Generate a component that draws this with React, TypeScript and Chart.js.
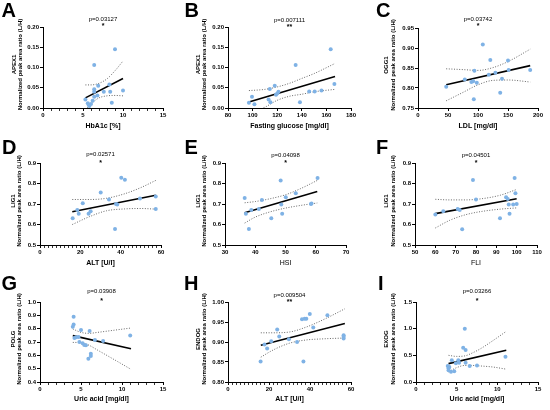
import { useEffect, useRef } from 'react';
import { Chart, registerables } from 'chart.js';
Chart.register(...registerables);

const FONT = "'Liberation Sans', Arial, Helvetica, sans-serif";
const YTITLE = 'Normalized peak area ratio (L/H)';

// ---------- Panel A: APEX1 vs HbA1c ----------
const hba1cA = [5.3, 5.6, 5.7, 5.8, 6.0, 6.2, 6.4, 6.4, 6.4, 6.4, 6.8, 6.9, 7.6, 8.3, 8.4, 8.6, 9.0, 10.0];
const apex1A = [0.021, 0.012, 0.008, 0.005, 0.010, 0.018, 0.028, 0.040, 0.046, 0.106, 0.031, 0.055, 0.040, 0.058, 0.040, 0.013, 0.145, 0.043];
const fitAX = [5.3, 10.0];
const fitAY = [0.025, 0.073];
const ciAX = [5.3, 6.0, 7.0, 8.0, 9.0, 10.0];
const ciAHi = [0.057, 0.057, 0.061, 0.072, 0.092, 0.116];
const ciALo = [-0.005, 0.010, 0.025, 0.030, 0.031, 0.030];

// ---------- Panel B: APEX1 vs fasting glucose ----------
const glucoseB = [97, 99.5, 101.5, 113, 114, 114.5, 118, 119, 120, 121, 135, 138.5, 146, 150.5, 156, 163.5, 166.5];
const apex1B = [0.013, 0.028, 0.009, 0.021, 0.047, 0.014, 0.055, 0.033, 0.036, 0.040, 0.106, 0.014, 0.041, 0.041, 0.043, 0.145, 0.059];
const fitBX = [97, 167];
const fitBY = [0.015, 0.078];
const ciBX = [97, 110, 120, 130, 140, 150, 167];
const ciBHi = [0.043, 0.046, 0.052, 0.061, 0.073, 0.085, 0.110];
const ciBLo = [-0.013, 0.002, 0.019, 0.029, 0.034, 0.040, 0.046];

// ---------- Panel C: OGG1 vs LDL ----------
const ldlC = [47, 78, 89, 92, 94, 93, 98, 108, 118, 120.5, 129, 137, 140, 150, 151, 187];
const ogg1C = [0.803, 0.821, 0.815, 0.817, 0.843, 0.772, 0.813, 0.909, 0.833, 0.870, 0.838, 0.788, 0.823, 0.869, 0.845, 0.845];
const fitCX = [47, 187];
const fitCY = [0.808, 0.856];
const ciCX = [47, 75, 100, 125, 150, 187];
const ciCHi = [0.848, 0.846, 0.844, 0.851, 0.866, 0.897];
const ciCLo = [0.768, 0.789, 0.808, 0.819, 0.820, 0.815];

// ---------- Panel D: LIG1 vs ALT ----------
const altD = [16.2, 18.5, 19.2, 21.2, 24.1, 25.1, 30.1, 34.2, 37.2, 37.7, 38.3, 40.3, 42.1, 49.6, 57.4, 57.4];
const lig1D = [0.631, 0.671, 0.652, 0.704, 0.652, 0.665, 0.756, 0.722, 0.578, 0.700, 0.698, 0.828, 0.818, 0.727, 0.737, 0.676];
const fitDX = [16, 57.4];
const fitDY = [0.662, 0.743];
const ciDX = [16, 25, 33, 42, 50, 57.4];
const ciDHi = [0.722, 0.722, 0.728, 0.750, 0.780, 0.815];
const ciDLo = [0.600, 0.640, 0.667, 0.676, 0.678, 0.675];

// ---------- Panel E: LIG1 vs HSI ----------
const hsiE = [36.5, 36.9, 37.9, 38.7, 41.2, 42.2, 45.3, 48.4, 48.6, 48.9, 50.1, 53.4, 58.4, 58.6, 60.6];
const lig1E = [0.729, 0.652, 0.578, 0.671, 0.676, 0.720, 0.631, 0.815, 0.698, 0.652, 0.733, 0.753, 0.700, 0.702, 0.827];
const fitEX = [36.5, 60.5];
const fitEY = [0.657, 0.761];
const ciEX = [36.5, 40, 45, 50, 55, 60.5];
const ciEHi = [0.706, 0.712, 0.726, 0.745, 0.775, 0.815];
const ciELo = [0.607, 0.636, 0.662, 0.680, 0.693, 0.705];

// ---------- Panel F: LIG1 vs FLI ----------
const fliF = [60, 63.9, 71, 72, 73.2, 78.5, 80, 91.8, 94.8, 95.6, 96.1, 96.5, 98.3, 99, 99.4, 100];
const lig1F = [0.649, 0.665, 0.676, 0.671, 0.577, 0.817, 0.722, 0.631, 0.733, 0.725, 0.698, 0.652, 0.698, 0.827, 0.753, 0.700];
const fitFX = [60, 100];
const fitFY = [0.653, 0.726];
const ciFX = [60, 67, 75, 83, 92, 100];
const ciFHi = [0.723, 0.720, 0.720, 0.726, 0.743, 0.771];
const ciFLo = [0.583, 0.620, 0.648, 0.664, 0.675, 0.681];

// ---------- Panel G: POLG vs uric acid ----------
const uricG = [4.0, 4.1, 4.1, 4.2, 4.4, 4.7, 4.8, 5.0, 5.2, 5.4, 5.6, 5.9, 6.05, 6.2, 6.2, 6.7, 7.7, 11.0];
const polgG = [0.815, 0.890, 0.832, 0.730, 0.735, 0.738, 0.700, 0.790, 0.690, 0.678, 0.676, 0.575, 0.783, 0.595, 0.612, 0.715, 0.708, 0.748];
const fitGX = [4.0, 11.1];
const fitGY = [0.748, 0.650];
const ciGX = [4.0, 5.0, 6.0, 7.0, 8.0, 9.5, 11.1];
const ciGHi = [0.798, 0.772, 0.765, 0.772, 0.780, 0.792, 0.805];
const ciGLo = [0.697, 0.695, 0.675, 0.640, 0.605, 0.552, 0.495];

// ---------- Panel H: ENDOG vs ALT ----------
const altH = [15.9, 17.8, 19.1, 21.1, 24.0, 25.0, 29.7, 33.7, 36.8, 36.1, 37.4, 38.2, 39.9, 41.6, 48.5, 56.4, 56.4, 56.4];
const endogH = [0.851, 0.894, 0.884, 0.902, 0.931, 0.914, 0.907, 0.900, 0.851, 0.957, 0.958, 0.958, 0.970, 0.936, 0.967, 0.917, 0.913, 0.909];
const fitHX = [16, 57];
const fitHY = [0.892, 0.946];
const ciHX = [16, 22, 30, 38, 47, 57];
const ciHHi = [0.923, 0.923, 0.925, 0.937, 0.957, 0.983];
const ciHLo = [0.862, 0.880, 0.897, 0.905, 0.908, 0.910];

// ---------- Panel I: EXOG vs uric acid ----------
const uricI = [3.9, 4.0, 4.0, 4.1, 4.3, 4.4, 4.7, 4.9, 5.2, 5.3, 5.8, 6.0, 6.1, 6.1, 6.6, 7.5, 11.0];
const exogI = [0.30, 0.26, 0.22, 0.28, 0.19, 0.41, 0.20, 0.35, 0.41, 0.36, 0.64, 1.00, 0.60, 0.36, 0.30, 0.31, 0.475];
const fitIX = [4.0, 11.1];
const fitIY = [0.345, 0.595];
const ciIX = [4.0, 5.0, 6.0, 7.0, 8.0, 9.5, 11.1];
const ciIHi = [0.50, 0.48, 0.49, 0.55, 0.63, 0.78, 0.95];
const ciILo = [0.19, 0.27, 0.31, 0.31, 0.30, 0.28, 0.24];

type Spec = {
  letter: string; gene: string; xTitle: string; xBold: boolean; p: string; star: string;
  xMin: number; xMax: number; xMajor: number; xMinor: number;
  yMin: number; yMax: number; yStep: number; yDec: number;
  px: number[]; py: number[]; fx: number[]; fy: number[]; cx: number[]; chi: number[]; clo: number[];
  // layout (panel-local pixels)
  L: number; T: number; cl: number; cr: number; ct: number; cb: number;
  letterX: number; yTitleX: number; pDy: number; starDy: number;
};

const PW = 183;
const PH = 137;

const panels: Spec[] = [
  { letter: 'A', gene: 'APEX1', xTitle: 'HbA1c [%]', xBold: true, p: 'p=0.03127', star: '*',
    xMin: 0, xMax: 15, xMajor: 5, xMinor: 1, yMin: 0, yMax: 0.2, yStep: 0.05, yDec: 2,
    px: hba1cA, py: apex1A, fx: fitAX, fy: fitAY, cx: ciAX, chi: ciAHi, clo: ciALo,
    L: 0, T: 0, cl: 43, cr: 163, ct: 27, cb: 108, letterX: 1.5, yTitleX: 14, pDy: -8, starDy: -2 },
  { letter: 'B', gene: 'APEX1', xTitle: 'Fasting glucose [mg/dl]', xBold: true, p: 'p=0.007111', star: '**',
    xMin: 80, xMax: 180, xMajor: 20, xMinor: 20, yMin: 0, yMax: 0.2, yStep: 0.05, yDec: 2,
    px: glucoseB, py: apex1B, fx: fitBX, fy: fitBY, cx: ciBX, chi: ciBHi, clo: ciBLo,
    L: 183, T: 0, cl: 45, cr: 168, ct: 27, cb: 108, letterX: 1.5, yTitleX: 15, pDy: -7, starDy: -1 },
  { letter: 'C', gene: 'OGG1', xTitle: 'LDL [mg/dl]', xBold: true, p: 'p=0.03742', star: '*',
    xMin: 0, xMax: 200, xMajor: 50, xMinor: 50, yMin: 0.75, yMax: 0.95, yStep: 0.05, yDec: 2,
    px: ldlC, py: ogg1C, fx: fitCX, fy: fitCY, cx: ciCX, chi: ciCHi, clo: ciCLo,
    L: 366, T: 0, cl: 52, cr: 172, ct: 28, cb: 108, letterX: 10, yTitleX: 20.7, pDy: -8.7, starDy: -3 },
  { letter: 'D', gene: 'LIG1', xTitle: 'ALT [U/l]', xBold: true, p: 'p=0.02571', star: '*',
    xMin: 0, xMax: 60, xMajor: 20, xMinor: 2, yMin: 0.5, yMax: 0.9, yStep: 0.1, yDec: 1,
    px: altD, py: lig1D, fx: fitDX, fy: fitDY, cx: ciDX, chi: ciDHi, clo: ciDLo,
    L: 0, T: 137, cl: 40, cr: 161, ct: 26, cb: 108, letterX: 2, yTitleX: 13.3, pDy: -8.7, starDy: -1 },
  { letter: 'E', gene: 'LIG1', xTitle: 'HSI', xBold: false, p: 'p=0.04098', star: '*',
    xMin: 30, xMax: 70, xMajor: 10, xMinor: 10, yMin: 0.5, yMax: 0.9, yStep: 0.1, yDec: 1,
    px: hsiE, py: lig1E, fx: fitEX, fy: fitEY, cx: ciEX, chi: ciEHi, clo: ciELo,
    L: 183, T: 137, cl: 42, cr: 163, ct: 26, cb: 108, letterX: 1.5, yTitleX: 15, pDy: -7.7, starDy: -1 },
  { letter: 'F', gene: 'LIG1', xTitle: 'FLI', xBold: false, p: 'p=0.04501', star: '*',
    xMin: 50, xMax: 110, xMajor: 10, xMinor: 10, yMin: 0.5, yMax: 0.9, yStep: 0.1, yDec: 1,
    px: fliF, py: lig1F, fx: fitFX, fy: fitFY, cx: ciFX, chi: ciFHi, clo: ciFLo,
    L: 366, T: 137, cl: 49, cr: 171, ct: 26, cb: 108, letterX: 10, yTitleX: 20.7, pDy: -7.7, starDy: -1 },
  { letter: 'G', gene: 'POLG', xTitle: 'Uric acid [mg/dl]', xBold: true, p: 'p=0.03908', star: '*',
    xMin: 0, xMax: 15, xMajor: 5, xMinor: 1, yMin: 0.4, yMax: 1.0, yStep: 0.1, yDec: 1,
    px: uricG, py: polgG, fx: fitGX, fy: fitGY, cx: ciGX, chi: ciGHi, clo: ciGLo,
    L: 0, T: 273, cl: 40, cr: 163, ct: 29, cb: 109, letterX: 1.5, yTitleX: 13.3, pDy: -10.7, starDy: -2 },
  { letter: 'H', gene: 'ENDOG', xTitle: 'ALT [U/l]', xBold: true, p: 'p=0.009504', star: '**',
    xMin: 0, xMax: 60, xMajor: 20, xMinor: 2, yMin: 0.8, yMax: 1.0, yStep: 0.05, yDec: 2,
    px: altH, py: endogH, fx: fitHX, fy: fitHY, cx: ciHX, chi: ciHHi, clo: ciHLo,
    L: 183, T: 273, cl: 45, cr: 168, ct: 29, cb: 109, letterX: 1, yTitleX: 15, pDy: -7, starDy: -1 },
  { letter: 'I', gene: 'EXOG', xTitle: 'Uric acid [mg/dl]', xBold: true, p: 'p=0.03266', star: '*',
    xMin: 0, xMax: 15, xMajor: 5, xMinor: 1, yMin: 0, yMax: 1.5, yStep: 0.5, yDec: 1,
    px: uricI, py: exogI, fx: fitIX, fy: fitIY, cx: ciIX, chi: ciIHi, clo: ciILo,
    L: 366, T: 273, cl: 50, cr: 172, ct: 29, cb: 109, letterX: 12, yTitleX: 20.7, pDy: -10.7, starDy: -2 },
];

const zip = (xs: number[], ys: number[]) => xs.map((x, i) => ({ x, y: ys[i] }));

const textPlugin = {
  id: 'panelText',
  afterDraw(chart: any, _args: any, opts: any) {
    const { ctx, chartArea } = chart;
    const cx = (chartArea.left + chartArea.right) / 2;
    ctx.save();
    ctx.fillStyle = '#000';
    ctx.textAlign = 'left';
    ctx.textBaseline = 'alphabetic';
    ctx.font = `bold 20px ${FONT}`;
    ctx.fillText(opts.letter, opts.letterX, 17);

    ctx.textAlign = 'center';
    ctx.textBaseline = 'middle';
    ctx.font = `6px ${FONT}`;
    ctx.fillText(opts.p, cx, chartArea.top + opts.pDy);
    ctx.font = `bold 7px ${FONT}`;
    ctx.fillText(opts.star, cx, chartArea.top + opts.starDy + 1.5);

    ctx.translate(opts.yTitleX, (chartArea.top + chartArea.bottom) / 2 - 3);
    ctx.rotate(-Math.PI / 2);
    ctx.font = `bold 6px ${FONT}`;
    ctx.fillText(opts.gene, 0, 0);
    ctx.fillText(YTITLE, 0, 6.3);
    ctx.restore();
  },
};

function Panel({ s }: { s: Spec }) {
  const ref = useRef<HTMLCanvasElement | null>(null);
  useEffect(() => {
    if (!ref.current) return;
    const isMajor = (v: number) => Math.abs(v / s.xMajor - Math.round(v / s.xMajor)) < 1e-6;
    const tickFont = { family: FONT, size: 6, weight: 'bold' as const };
    const chart = new Chart(ref.current, {
      type: 'scatter',
      data: {
        datasets: [
          { data: zip(s.px, s.py), pointRadius: 2, pointHoverRadius: 2, pointBackgroundColor: '#7fb2e5', pointBorderWidth: 0, showLine: false },
          { data: zip(s.fx, s.fy), showLine: true, pointRadius: 0, borderColor: '#000', borderWidth: 1.6 },
          { data: zip(s.cx, s.chi), showLine: true, pointRadius: 0, borderColor: '#666', borderWidth: 1, borderDash: [1, 1.6], tension: 0.4, cubicInterpolationMode: 'monotone' },
          { data: zip(s.cx, s.clo), showLine: true, pointRadius: 0, borderColor: '#666', borderWidth: 1, borderDash: [1, 1.6], tension: 0.4, cubicInterpolationMode: 'monotone' },
        ] as any,
      },
      options: {
        responsive: false,
        animation: false,
        events: [],
        layout: { padding: { left: 0, top: s.ct, right: PW - s.cr, bottom: 0 } },
        plugins: {
          legend: { display: false },
          tooltip: { enabled: false },
          panelText: { letter: s.letter, letterX: s.letterX, yTitleX: s.yTitleX, gene: s.gene, p: s.p, star: s.star, pDy: s.pDy, starDy: s.starDy },
        } as any,
        scales: {
          x: {
            type: 'linear', min: s.xMin, max: s.xMax,
            afterFit: (sc: any) => { sc.height = PH - s.cb; },
            border: { display: true, color: '#000', width: 1 },
            grid: { display: true, drawOnChartArea: false, drawTicks: true, tickLength: 3, tickColor: '#000',
              tickWidth: (c: any) => (c.tick && isMajor(c.tick.value) ? 1 : 0.8) },
            ticks: { stepSize: s.xMinor, autoSkip: false, maxRotation: 0, padding: 1, color: '#000', font: tickFont,
              callback: (v: any) => (isMajor(Number(v)) ? String(Math.round(Number(v))) : '') },
            title: { display: true, text: s.xTitle, color: '#000', font: { family: FONT, size: 7, weight: s.xBold ? 'bold' : 'normal' }, padding: { top: 0, bottom: 6.8 } },
          },
          y: {
            type: 'linear', min: s.yMin, max: s.yMax,
            afterFit: (sc: any) => { sc.width = s.cl; },
            border: { display: true, color: '#000', width: 1 },
            grid: { display: true, drawOnChartArea: false, drawTicks: true, tickLength: 3, tickColor: '#000' },
            ticks: { stepSize: s.yStep, autoSkip: false, padding: 1, color: '#000', font: tickFont,
              callback: (v: any) => Number(v).toFixed(s.yDec) },
            title: { display: false },
          },
        } as any,
      },
      plugins: [textPlugin as any],
    });
    return () => chart.destroy();
  }, [s]);
  return (
    <canvas ref={ref} width={PW} height={PH}
      style={{ position: 'absolute', left: s.L, top: s.T, width: PW, height: PH, display: 'block' }} />
  );
}

export default function App() {
  return (
    <div style={{ position: 'absolute', left: 0, top: 0, width: 550, height: 410, background: '#fff', overflow: 'hidden' }}>
      {panels.map((s) => <Panel key={s.letter} s={s} />)}
    </div>
  );
}
